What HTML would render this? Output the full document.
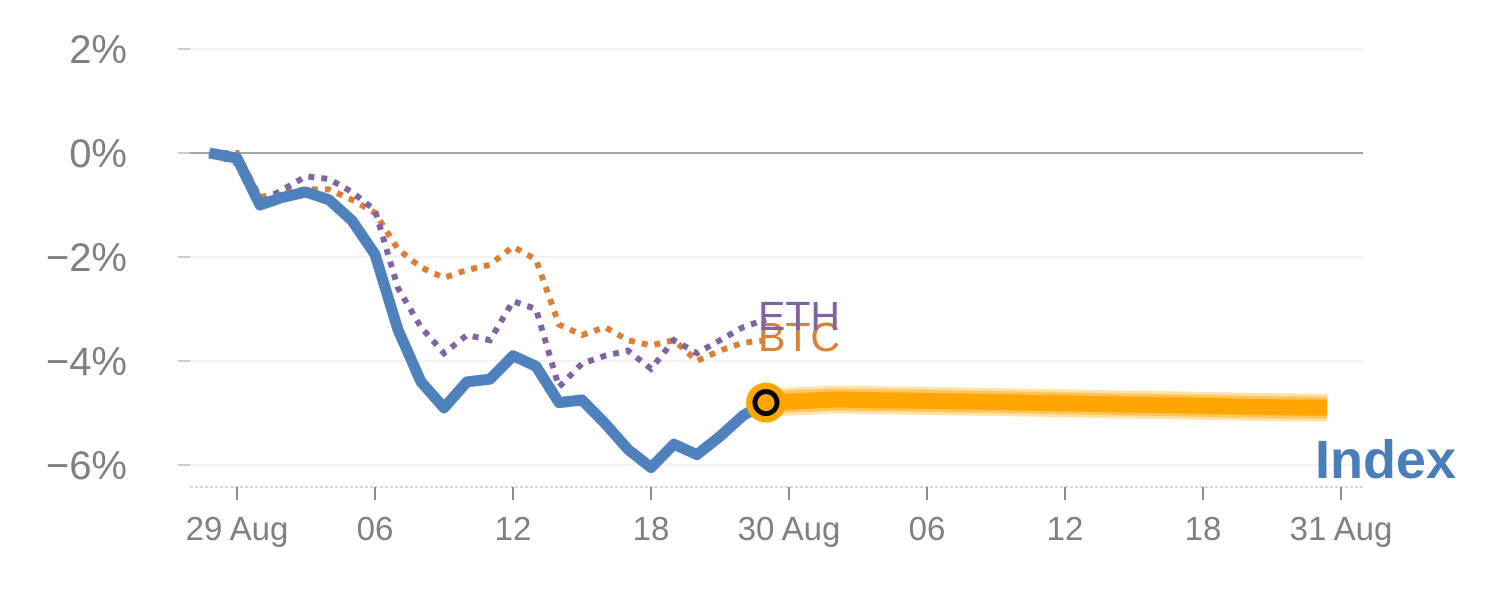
<!DOCTYPE html>
<html><head><meta charset="utf-8"><style>
body{margin:0;background:#fff;}
svg text{font-family:"Liberation Sans",sans-serif;}
</style></head><body>
<svg id="chart" width="1500" height="600" viewBox="0 0 1500 600" xmlns="http://www.w3.org/2000/svg"></svg>
<script>
const yTicks=[2,0,-2,-4,-6];
const yTickLabels=["2%","0%","\u22122%","\u22124%","\u22126%"];
const xTicks=[0,6,12,18,24,30,36,42,48];
const xTickLabels=["29 Aug","06","12","18","30 Aug","06","12","18","31 Aug"];
const histHours=[-1.2,0,1,2,3,4,5,6,7,8,9,10,11,12,13,14,15,16,17,18,19,20,21,22,23];
const indexVals=[0,-0.1,-1.0,-0.85,-0.75,-0.9,-1.3,-1.95,-3.4,-4.4,-4.9,-4.4,-4.35,-3.9,-4.1,-4.8,-4.75,-5.2,-5.7,-6.05,-5.6,-5.8,-5.45,-5.05,-4.8];
const ethVals=[0,-0.2,-0.95,-0.7,-0.45,-0.5,-0.75,-1.1,-2.6,-3.35,-3.85,-3.5,-3.6,-2.85,-3.0,-4.5,-4.05,-3.9,-3.8,-4.15,-3.6,-3.85,-3.6,-3.35,-3.2];
const btcVals=[0,0,-0.85,-0.75,-0.7,-0.7,-0.9,-1.15,-1.85,-2.2,-2.4,-2.25,-2.15,-1.8,-2.05,-3.3,-3.5,-3.35,-3.6,-3.7,-3.6,-4.0,-3.8,-3.65,-3.6];
const fcHours=[23,26,32,38,44,47.4];
const fcVals=[-4.8,-4.74,-4.78,-4.83,-4.88,-4.9];

const X=h=>237+23*h, Y=v=>153-52*v;
const svg=document.getElementById('chart');
const NS='http://www.w3.org/2000/svg';
function mk(tag,attrs,name,parent){const e=document.createElementNS(NS,tag);for(const k in attrs)e.setAttribute(k,attrs[k]);


(parent||svg).appendChild(e);return e;}
function pts(hs,vs){return hs.map((h,i)=>X(h).toFixed(1)+','+Y(vs[i]).toFixed(1)).join(' ');}

yTicks.forEach((t,i)=>{
  mk('line',{x1:190,x2:1363,y1:Y(t),y2:Y(t),stroke:t===0?'#888':'#e6e6e6','stroke-width':t===0?1.5:1},'y-gridline');
  mk('line',{x1:178,x2:190,y1:Y(t),y2:Y(t),stroke:'#999','stroke-width':1},'y-tick');
  const tx=mk('text',{x:127,y:Y(t)+14,'text-anchor':'end','font-size':40,fill:'#808080'},'y-tick-label');tx.textContent=yTickLabels[i];
});
mk('line',{x1:190,x2:1365,y1:487,y2:487,stroke:'#ccc','stroke-width':1.5,'stroke-dasharray':'3,2'},'x-axis-baseline');
xTicks.forEach((t,i)=>{
  mk('line',{x1:X(t),x2:X(t),y1:487,y2:500,stroke:'#666','stroke-width':1.5},'x-tick');
  const tx=mk('text',{x:X(t),y:540,'text-anchor':'middle','font-size':33,fill:'#808080'},'x-tick-label');tx.textContent=xTickLabels[i];
});
mk('polyline',{points:pts(histHours,btcVals),fill:'none',stroke:'#db7f35','stroke-width':6,'stroke-dasharray':'6,7'},'btc-line');
mk('polyline',{points:pts(histHours,ethVals),fill:'none',stroke:'#8064a2','stroke-width':6,'stroke-dasharray':'6,7'},'eth-line');
mk('polyline',{points:pts(histHours,indexVals),fill:'none',stroke:'#4f81bd','stroke-width':11,'stroke-linejoin':'round'},'index-line');
mk('polyline',{points:pts(fcHours,fcVals),fill:'none',stroke:'#ffe2a8','stroke-width':28,'stroke-linejoin':'round'},'forecast-band-outer');
mk('polyline',{points:pts(fcHours,fcVals),fill:'none',stroke:'#ffc55c','stroke-width':22,'stroke-linejoin':'round'},'forecast-band-mid');
mk('polyline',{points:pts(fcHours,fcVals),fill:'none',stroke:'#ffa500','stroke-width':16,'stroke-linejoin':'round'},'forecast-line');
const lx=X(histHours[histHours.length-1]), ly=Y(indexVals[indexVals.length-1]);
mk('circle',{cx:lx,cy:ly,r:20,fill:'#ffa500'},'current-marker-outer');
mk('circle',{cx:lx,cy:ly,r:11,fill:'#ffa500',stroke:'#000','stroke-width':5},'current-marker-inner');
let t=mk('text',{x:758,y:351,'font-size':41,fill:'#db7f35'},'btc-label');t.textContent='BTC';
t=mk('text',{x:758,y:330,'font-size':41,fill:'#8064a2'},'eth-label');t.textContent='ETH';
t=mk('text',{x:1456,y:478,'text-anchor':'end','font-size':54,'font-weight':'bold',fill:'#4a7ebb'},'index-label');t.textContent='Index';
</script>
</body></html>
